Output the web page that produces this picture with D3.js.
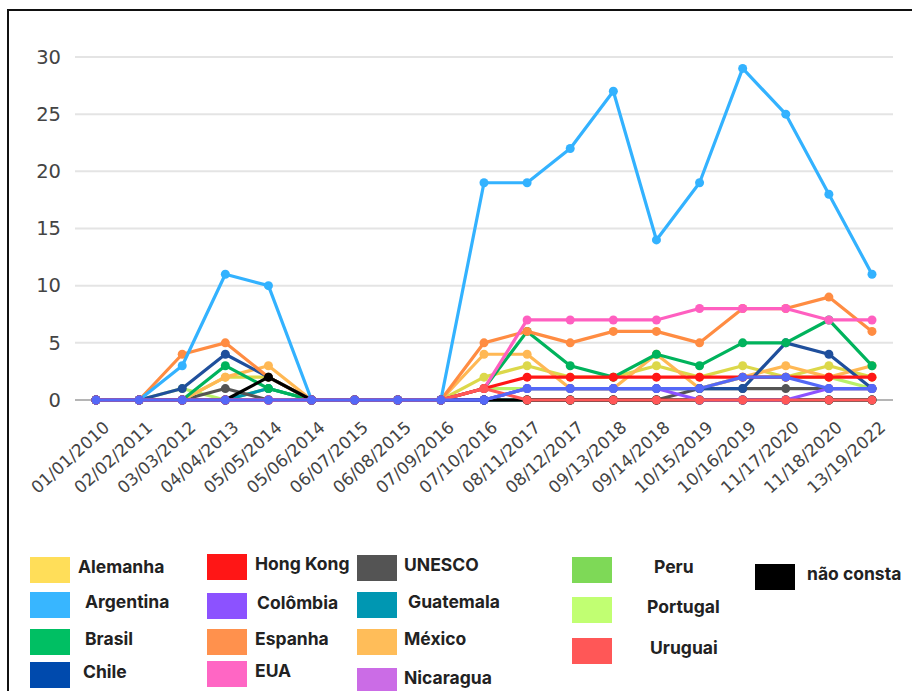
<!DOCTYPE html>
<html>
<head>
<meta charset="utf-8">
<script src="https://cdn.jsdelivr.net/npm/d3@7"></script>
<style>
  html, body { margin: 0; padding: 0; background: #fff; }
  svg { display: block; }
</style>
</head>
<body>
<svg id="chart" width="912" height="691"></svg>
<script>
// Categories (date labels along the x axis)
const categories = [
  "01/01/2010", "02/02/2011", "03/03/2012", "04/04/2013", "05/05/2014",
  "05/06/2014", "06/07/2015", "06/08/2015", "07/09/2016", "07/10/2016",
  "08/11/2017", "08/12/2017", "09/13/2018", "09/14/2018", "10/15/2019",
  "10/16/2019", "11/17/2020", "11/18/2020", "13/19/2022"
];
const yTicks = [0, 5, 10, 15, 20, 25, 30];

// Series values, one per category
const alemanha   = [0,0,0,2,2,0,0,0,0,2,3,2,2,3,2,3,2,3,2];
const argentina  = [0,0,3,11,10,0,0,0,0,19,19,22,27,14,19,29,25,18,11];
const brasil     = [0,0,0,3,1,0,0,0,0,1,6,3,2,4,3,5,5,7,3];
const chile      = [0,0,1,4,2,0,0,0,0,0,1,1,1,1,1,1,5,4,1];
const hongKong   = [0,0,0,0,0,0,0,0,0,1,2,2,2,2,2,2,2,2,2];
const colombia   = [0,0,0,0,0,0,0,0,0,0,1,1,1,1,1,2,2,1,1];
const espanha    = [0,0,4,5,2,0,0,0,0,5,6,5,6,6,5,8,8,9,6];
const eua        = [0,0,0,0,0,0,0,0,0,1,7,7,7,7,8,8,8,7,7];
const unesco     = [0,0,0,1,0,0,0,0,0,0,0,0,0,0,1,1,1,1,1];
const guatemala  = [0,0,0,0,1,0,0,0,0,0,0,0,0,0,0,0,0,0,0];
const mexico     = [0,0,0,2,3,0,0,0,0,4,4,1,1,4,1,2,3,2,3];
const nicaragua  = [0,0,0,0,0,0,0,0,0,0,1,1,1,1,0,0,0,1,1];
const peru       = [0,0,0,0,1,0,0,0,0,0,0,0,0,0,0,0,0,0,0];
const portugal   = [0,0,1,0,0,0,0,0,0,1,1,1,1,1,1,2,2,2,1];
const uruguai    = [0,0,0,0,0,0,0,0,0,1,0,0,0,0,0,0,0,0,0];
const naoConsta  = [0,0,0,0,2,0,0,0,0,0,0,0,0,0,0,0,0,0,0];

// Series in drawing order (first drawn underneath)
const series = [
  { name: "Peru",       values: peru,      swatch: "#7ed957", line: "#7ed957" },
  { name: "Portugal",   values: portugal,  swatch: "#c1ff72", line: "#b8f06a" },
  { name: "Guatemala",  values: guatemala, swatch: "#0097b2", line: "#0097b2" },
  { name: "UNESCO",     values: unesco,    swatch: "#545454", line: "#545454" },
  { name: "Alemanha",   values: alemanha,  swatch: "#ffde59", line: "#dcd84a" },
  { name: "México",     values: mexico,    swatch: "#ffbd59", line: "#ffb854" },
  { name: "Chile",      values: chile,     swatch: "#004aad", line: "#1f4f9c" },
  { name: "Brasil",     values: brasil,    swatch: "#00bf63", line: "#00b35c" },
  { name: "Espanha",    values: espanha,   swatch: "#ff914d", line: "#ff8c42" },
  { name: "EUA",        values: eua,       swatch: "#ff66c4", line: "#ff5fc0" },
  { name: "Hong Kong",  values: hongKong,  swatch: "#ff1616", line: "#ff1616" },
  { name: "Argentina",  values: argentina, swatch: "#38b6ff", line: "#33b2ff" },
  { name: "não consta", values: naoConsta, swatch: "#000000", line: "#000000" },
  { name: "Nicaragua",  values: nicaragua, swatch: "#cb6ce6", line: "#8c52ff" },
  { name: "Uruguai",    values: uruguai,   swatch: "#ff5757", line: "#ff5757" },
  { name: "Colômbia",   values: colombia,  swatch: "#8c52ff", line: "#5468f7" }
];

// Legend layout: columns of entries
const legendColumns = [
  ["Alemanha", "Argentina", "Brasil", "Chile"],
  ["Hong Kong", "Colômbia", "Espanha", "EUA"],
  ["UNESCO", "Guatemala", "México", "Nicaragua"],
  ["Peru", "Portugal", "Uruguai"],
  ["não consta"]
];

const svg = d3.select("#chart");

// Outer frame
svg.append("rect")
  .attr("x", 8).attr("y", 10)
  .attr("width", 912).attr("height", 700)
  .attr("fill", "none").attr("stroke", "#111").attr("stroke-width", 2);

const x = d3.scalePoint().domain(categories).range([96, 872]);
const y = d3.scaleLinear().domain([0, 30]).range([400, 57]);

// Grid lines
const grid = svg.append("g");
grid.selectAll("line").data(yTicks).join("line")
  .attr("x1", 75).attr("x2", 893)
  .attr("y1", d => y(d)).attr("y2", d => y(d))
  .attr("stroke", d => d === 0 ? "#b5b5b5" : "#e4e4e4")
  .attr("stroke-width", 2);

// Y axis labels
const yAxis = d3.axisLeft(y).tickValues(yTicks).tickSize(0).tickPadding(0);
svg.append("g")
  .attr("transform", "translate(61,0)")
  .call(yAxis)
  .call(g => g.select(".domain").remove())
  .call(g => g.selectAll("text")
    .attr("font-family", "'DejaVu Sans', sans-serif")
    .attr("font-size", 19.5)
    .attr("fill", "#444"));

// X axis labels, rotated
const xAxis = d3.axisBottom(x).tickSize(0).tickPadding(0);
svg.append("g")
  .attr("transform", "translate(0,400)")
  .call(xAxis)
  .call(g => g.select(".domain").remove())
  .call(g => g.selectAll("text")
    .attr("font-family", "'DejaVu Sans', sans-serif")
    .attr("font-size", 17)
    .attr("fill", "#444")
    .attr("text-anchor", "end")
    .attr("dy", 0)
    .attr("transform", "translate(14,29) rotate(-42)"));

// Lines and markers
const line = d3.line()
  .x((d, i) => x(categories[i]))
  .y(d => y(d));

const plot = svg.append("g");
series.forEach(s => {
  const g = plot.append("g");
  g.append("path")
    .datum(s.values)
    .attr("d", line)
    .attr("fill", "none")
    .attr("stroke", s.line)
    .attr("stroke-width", 3.2)
    .attr("stroke-linejoin", "round");
  g.selectAll("circle").data(s.values).join("circle")
    .attr("cx", (d, i) => x(categories[i]))
    .attr("cy", d => y(d))
    .attr("r", 4.5)
    .attr("fill", s.line);
});

// Legend
const colX = [
  { sw: 30,  tx: 80 },
  { sw: 207, tx: 255 },
  { sw: 357, tx: 404 },
  { sw: 572, tx: 650 },
  { sw: 755, tx: 807 }
];
const colRows = [
  [570, 605, 642, 675],
  [567, 606, 642, 674],
  [568, 605, 642, 681],
  [570, 610, 651],
  [577]
];
const labelDx = {
  "Alemanha": -2, "Argentina": 5, "Brasil": 5, "Chile": 3,
  "Hong Kong": 0, "Colômbia": 2, "Espanha": 0, "EUA": 0,
  "UNESCO": 0, "Guatemala": 4, "México": 0, "Nicaragua": 0,
  "Peru": 4, "Portugal": -3, "Uruguai": 0, "não consta": 0
};
const legend = svg.append("g");
legendColumns.forEach((col, ci) => {
  col.forEach((name, ri) => {
    const s = series.find(d => d.name === name);
    const cy = colRows[ci][ri];
    legend.append("rect")
      .attr("x", colX[ci].sw).attr("y", cy - 13)
      .attr("width", 40).attr("height", 26)
      .attr("fill", s.swatch);
    legend.append("text")
      .attr("x", colX[ci].tx + labelDx[name])
      .attr("y", cy - 2)
      .attr("dominant-baseline", "middle")
      .attr("font-family", "Inter, 'Noto Sans', sans-serif")
      .attr("font-weight", 700)
      .attr("font-size", 17.5)
      .attr("fill", "#222")
      .text(name);
  });
});
</script>
</body>
</html>
